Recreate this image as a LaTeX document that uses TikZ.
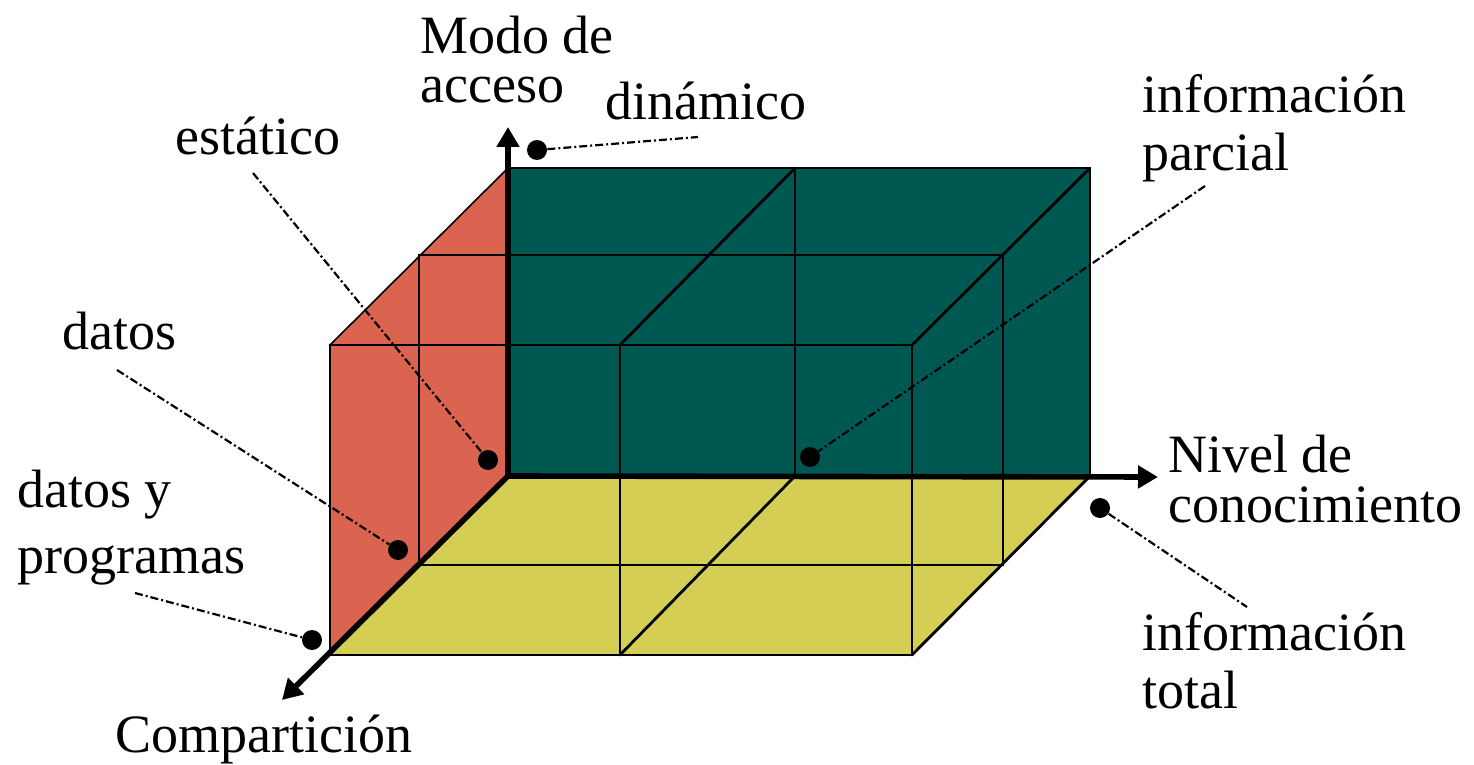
\documentclass[tikz,border=0pt]{standalone}
\usepackage{fontspec}
\setmainfont{Liberation Serif}
\usetikzlibrary{arrows.meta}
\definecolor{redface}{RGB}{218,100,80}
\definecolor{tealface}{RGB}{0,88,82}
\definecolor{yellowface}{RGB}{213,206,85}
\begin{document}
\begin{tikzpicture}[x=0.5pt,y=-0.5pt,
  gridline/.style={line width=1.4pt, line cap=round},
  axisline/.style={line width=2.8pt, -{Triangle[length=10pt,width=11pt]}},
  leader/.style={line width=1.1pt, dash pattern=on 4pt off 1.5pt on 1pt off 1.5pt},
  dot/.style={circle, fill=black, inner sep=0pt, minimum size=10pt},
  lbl/.style={anchor=base west, inner sep=0pt, align=left}]
\useasboundingbox (0,0) rectangle (1474,765);
% faces
\fill[tealface] (508,168) rectangle (1090,476);
\fill[redface] (508,168) -- (508,476) -- (330,655) -- (330,345) -- cycle;
\fill[yellowface] (508,476) -- (1090,476) -- (912,655) -- (330,655) -- cycle;
% grid
\draw[gridline] (508,168) -- (1090,168) -- (1090,476);
\draw[gridline] (795,168) -- (795,476);
\draw[gridline] (795,168) -- (620,345);
\draw[gridline] (1090,168) -- (912,345);
\draw[gridline] (419,255) -- (1003,255) -- (1003,565);
\draw[gridline] (330,345) -- (912,345) -- (912,655);
\draw[gridline] (620,345) -- (620,655);
\draw[gridline] (419,255) -- (419,565) -- (1003,565);
\draw[gridline] (330,345) -- (330,655) -- (912,655);
\draw[gridline] (795,476) -- (620,655);
\draw[gridline] (1090,476) -- (912,655);
\draw[line width=0.8pt] (508,168) -- (330,345);
% axes
\coordinate (O) at (508,476);
\coordinate (zt) at (508,127);
\coordinate (xt) at (1158,477);
\coordinate (yt) at (282,700);
\draw[axisline] (O) -- (zt);
\draw[axisline] (O) -- (xt);
\draw[axisline] (O) -- (yt);
% labels (base west = baseline of the last line)
\node[lbl, font=\fontsize{27}{24.5}\selectfont] (modo) at (420,103) {Modo de\\acceso};
\node[lbl, font=\fontsize{27}{30}\selectfont] (din) at (605,120) {dinámico};
\node[lbl, font=\fontsize{27}{30}\selectfont] (est) at (175,155) {estático};
\node[lbl, font=\fontsize{27}{28.5}\selectfont] (ip) at (1142,170) {información\\parcial};
\node[lbl, font=\fontsize{27}{30}\selectfont] (dat) at (62,350) {datos};
\node[lbl, font=\fontsize{27}{33}\selectfont] (dp) at (17,573) {datos y\\programas};
\node[lbl, font=\fontsize{27}{25}\selectfont] (niv) at (1168,522) {Nivel de\\conocimiento};
\node[lbl, font=\fontsize{27}{29}\selectfont] (it) at (1142,708) {información\\total};
\node[lbl, font=\fontsize{27}{30}\selectfont] (comp) at (115,752) {Compartición};
% dots
\node[dot] (ddin) at (537,150) {};
\node[dot] (dest) at (488,460) {};
\node[dot] (ddat) at (398,550) {};
\node[dot] (ddp) at (312,640) {};
\node[dot] (dip) at (810,457) {};
\node[dot] (dit) at (1100,508) {};
% leader ends
\coordinate (ldin) at (698,137);
\coordinate (lest) at (253,173);
\coordinate (ldat) at (117,370);
\coordinate (ldp) at (135,593);
\coordinate (lip) at (1205,186);
\coordinate (lit) at (1247,607);
\draw[leader] (ddin) -- (ldin);
\draw[leader] (lest) -- (dest);
\draw[leader] (ldat) -- (ddat);
\draw[leader] (ldp) -- (ddp);
\draw[leader] (lip) -- (dip);
\draw[leader] (dit) -- (lit);
\end{tikzpicture}
\end{document}
